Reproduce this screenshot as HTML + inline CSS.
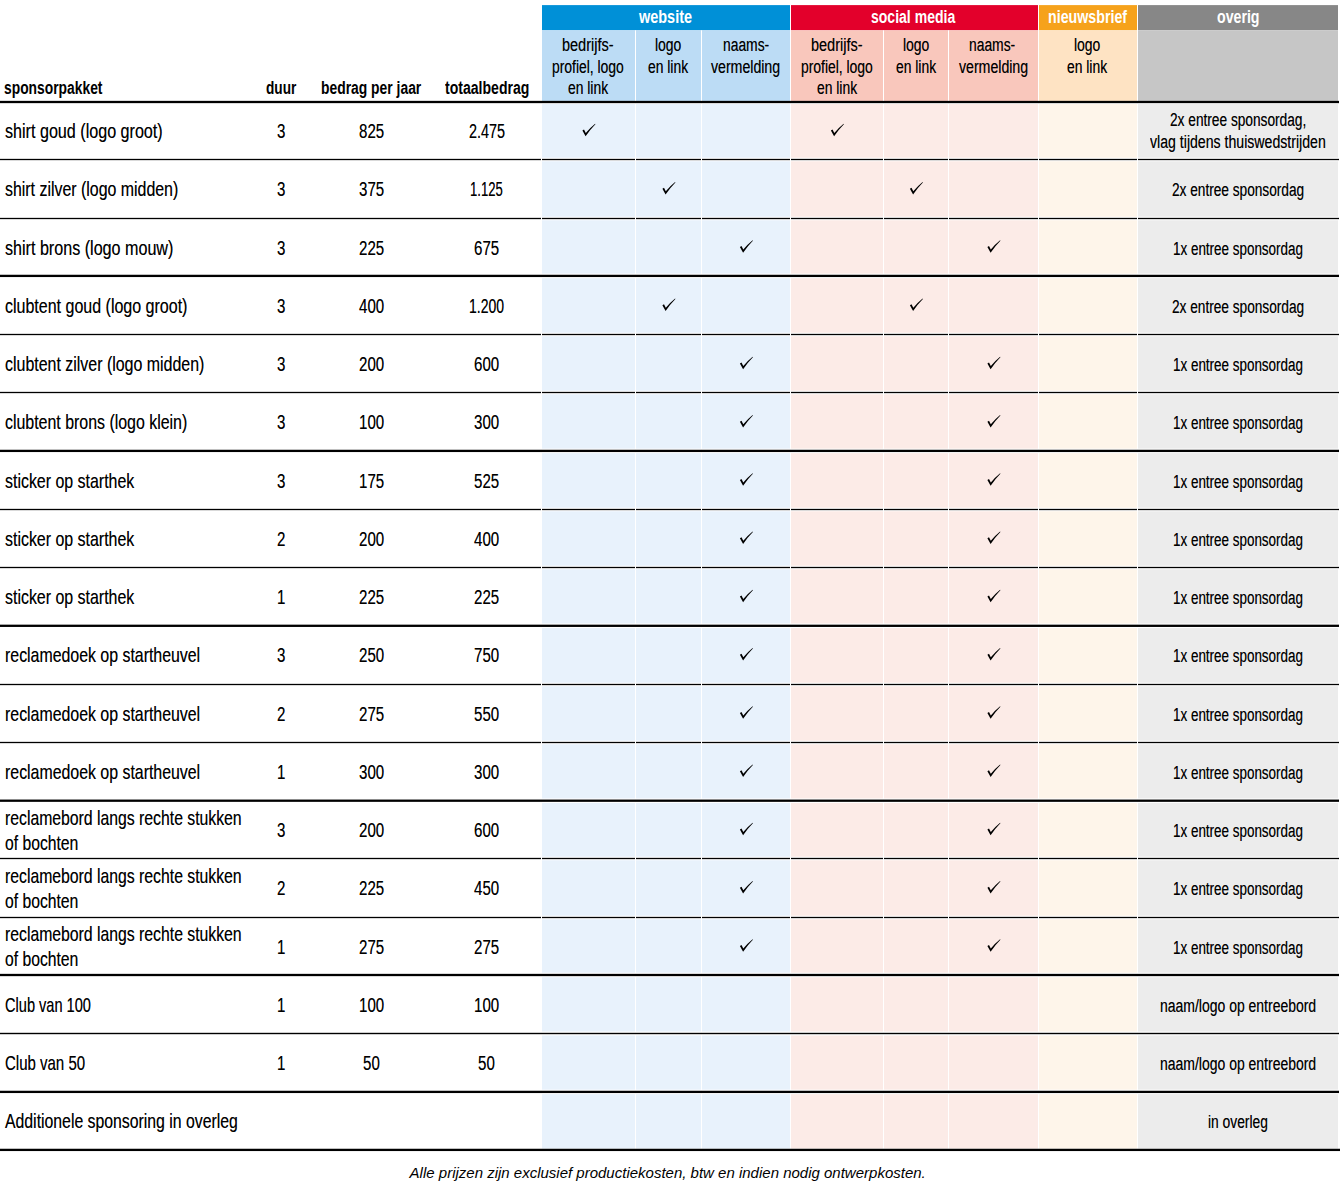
<!DOCTYPE html>
<html lang="nl"><head><meta charset="utf-8"><title>Sponsorpakketten</title>
<style>
html,body{margin:0;padding:0;background:#fff}
body{font-family:"Liberation Sans", sans-serif;color:#000}
.t{position:absolute;white-space:nowrap;line-height:1}
.t span{display:inline-block;transform-origin:0 50%}
body{width:1340px;height:1186px;position:relative;overflow:hidden}
</style></head><body>
<svg width="1340" height="1186" viewBox="0 0 1340 1186" style="position:absolute;left:0;top:0">
<rect x="542" y="5.1" width="248" height="25.2" fill="#0090d7"/>
<rect x="791" y="5.1" width="247" height="25.2" fill="#e3002b"/>
<rect x="1039" y="5.1" width="98" height="25.2" fill="#f6a21b"/>
<rect x="1138" y="5.1" width="200" height="25.2" fill="#878787"/>
<rect x="542" y="30.3" width="93" height="71" fill="#bcdcf5"/>
<rect x="636" y="30.3" width="65" height="71" fill="#bcdcf5"/>
<rect x="702" y="30.3" width="88" height="71" fill="#bcdcf5"/>
<rect x="791" y="30.3" width="92" height="71" fill="#f9c7bc"/>
<rect x="884" y="30.3" width="64" height="71" fill="#f9c7bc"/>
<rect x="949" y="30.3" width="89" height="71" fill="#f9c7bc"/>
<rect x="1039" y="30.3" width="98" height="71" fill="#fee3c3"/>
<rect x="1138" y="30.3" width="200" height="71" fill="#c6c6c6"/>
<rect x="542" y="104" width="93" height="1044.6" fill="#e8f2fc"/>
<rect x="636" y="104" width="65" height="1044.6" fill="#e8f2fc"/>
<rect x="702" y="104" width="88" height="1044.6" fill="#e8f2fc"/>
<rect x="791" y="104" width="92" height="1044.6" fill="#fcebe7"/>
<rect x="884" y="104" width="64" height="1044.6" fill="#fcebe7"/>
<rect x="949" y="104" width="89" height="1044.6" fill="#fcebe7"/>
<rect x="1039" y="104" width="98" height="1044.6" fill="#fef5ea"/>
<rect x="1138" y="104" width="200" height="1044.6" fill="#ececec"/>
<rect x="541" y="157.75" width="798" height="3.5" fill="#fff"/>
<rect x="541" y="216.75" width="798" height="3.5" fill="#fff"/>
<rect x="541" y="273.65" width="798" height="4.5" fill="#fff"/>
<rect x="541" y="332.75" width="798" height="3.5" fill="#fff"/>
<rect x="541" y="390.75" width="798" height="3.5" fill="#fff"/>
<rect x="541" y="448.65" width="798" height="4.5" fill="#fff"/>
<rect x="541" y="507.75" width="798" height="3.5" fill="#fff"/>
<rect x="541" y="565.75" width="798" height="3.5" fill="#fff"/>
<rect x="541" y="623.55" width="798" height="4.5" fill="#fff"/>
<rect x="541" y="682.75" width="798" height="3.5" fill="#fff"/>
<rect x="541" y="740.75" width="798" height="3.5" fill="#fff"/>
<rect x="541" y="798.45" width="798" height="4.5" fill="#fff"/>
<rect x="541" y="856.75" width="798" height="3.5" fill="#fff"/>
<rect x="541" y="915.75" width="798" height="3.5" fill="#fff"/>
<rect x="541" y="972.75" width="798" height="4.5" fill="#fff"/>
<rect x="541" y="1031.55" width="798" height="3.9" fill="#fff"/>
<rect x="541" y="1089.65" width="798" height="4.5" fill="#fff"/>
<rect x="0" y="158.85" width="1339" height="1.3" fill="#000"/>
<rect x="0" y="217.85" width="1339" height="1.3" fill="#000"/>
<rect x="0" y="333.85" width="1339" height="1.3" fill="#000"/>
<rect x="0" y="391.85" width="1339" height="1.3" fill="#000"/>
<rect x="0" y="508.85" width="1339" height="1.3" fill="#000"/>
<rect x="0" y="566.85" width="1339" height="1.3" fill="#000"/>
<rect x="0" y="683.85" width="1339" height="1.3" fill="#000"/>
<rect x="0" y="741.85" width="1339" height="1.3" fill="#000"/>
<rect x="0" y="857.85" width="1339" height="1.3" fill="#000"/>
<rect x="0" y="916.85" width="1339" height="1.3" fill="#000"/>
<rect x="541" y="5" width="1" height="1146" fill="#fff"/>
<rect x="790" y="5" width="1" height="1146" fill="#fff"/>
<rect x="1038" y="5" width="1" height="1146" fill="#fff"/>
<rect x="1137" y="5" width="1" height="1146" fill="#fff"/>
<rect x="635" y="30.3" width="1" height="1120.7" fill="#fff"/>
<rect x="701" y="30.3" width="1" height="1120.7" fill="#fff"/>
<rect x="883" y="30.3" width="1" height="1120.7" fill="#fff"/>
<rect x="948" y="30.3" width="1" height="1120.7" fill="#fff"/>
<rect x="0" y="100.85" width="1339" height="2.3" fill="#000"/>
<rect x="0" y="274.75" width="1339" height="2.3" fill="#000"/>
<rect x="0" y="449.75" width="1339" height="2.3" fill="#000"/>
<rect x="0" y="624.65" width="1339" height="2.3" fill="#000"/>
<rect x="0" y="799.55" width="1339" height="2.3" fill="#000"/>
<rect x="0" y="973.85" width="1339" height="2.3" fill="#000"/>
<rect x="0" y="1032.80" width="1339" height="1.4" fill="#000"/>
<rect x="0" y="1090.75" width="1339" height="2.3" fill="#000"/>
<rect x="0" y="1148.75" width="1340" height="2.3" fill="#000"/>
<path transform="translate(588.50,138.05)" d="M-6.1,-7.5 L-4.5,-8.5 L-2.7,-5.0 Q1.7,-10.2 6.6,-14.2 L6.9,-13.9 Q1.9,-8.9 -2.9,-1.8 Z" fill="#000"/>
<path transform="translate(837.00,138.05)" d="M-6.1,-7.5 L-4.5,-8.5 L-2.7,-5.0 Q1.7,-10.2 6.6,-14.2 L6.9,-13.9 Q1.9,-8.9 -2.9,-1.8 Z" fill="#000"/>
<path transform="translate(668.50,196.30)" d="M-6.1,-7.5 L-4.5,-8.5 L-2.7,-5.0 Q1.7,-10.2 6.6,-14.2 L6.9,-13.9 Q1.9,-8.9 -2.9,-1.8 Z" fill="#000"/>
<path transform="translate(916.00,196.30)" d="M-6.1,-7.5 L-4.5,-8.5 L-2.7,-5.0 Q1.7,-10.2 6.6,-14.2 L6.9,-13.9 Q1.9,-8.9 -2.9,-1.8 Z" fill="#000"/>
<path transform="translate(746.00,254.55)" d="M-6.1,-7.5 L-4.5,-8.5 L-2.7,-5.0 Q1.7,-10.2 6.6,-14.2 L6.9,-13.9 Q1.9,-8.9 -2.9,-1.8 Z" fill="#000"/>
<path transform="translate(993.50,254.55)" d="M-6.1,-7.5 L-4.5,-8.5 L-2.7,-5.0 Q1.7,-10.2 6.6,-14.2 L6.9,-13.9 Q1.9,-8.9 -2.9,-1.8 Z" fill="#000"/>
<path transform="translate(668.50,312.80)" d="M-6.1,-7.5 L-4.5,-8.5 L-2.7,-5.0 Q1.7,-10.2 6.6,-14.2 L6.9,-13.9 Q1.9,-8.9 -2.9,-1.8 Z" fill="#000"/>
<path transform="translate(916.00,312.80)" d="M-6.1,-7.5 L-4.5,-8.5 L-2.7,-5.0 Q1.7,-10.2 6.6,-14.2 L6.9,-13.9 Q1.9,-8.9 -2.9,-1.8 Z" fill="#000"/>
<path transform="translate(746.00,371.05)" d="M-6.1,-7.5 L-4.5,-8.5 L-2.7,-5.0 Q1.7,-10.2 6.6,-14.2 L6.9,-13.9 Q1.9,-8.9 -2.9,-1.8 Z" fill="#000"/>
<path transform="translate(993.50,371.05)" d="M-6.1,-7.5 L-4.5,-8.5 L-2.7,-5.0 Q1.7,-10.2 6.6,-14.2 L6.9,-13.9 Q1.9,-8.9 -2.9,-1.8 Z" fill="#000"/>
<path transform="translate(746.00,429.30)" d="M-6.1,-7.5 L-4.5,-8.5 L-2.7,-5.0 Q1.7,-10.2 6.6,-14.2 L6.9,-13.9 Q1.9,-8.9 -2.9,-1.8 Z" fill="#000"/>
<path transform="translate(993.50,429.30)" d="M-6.1,-7.5 L-4.5,-8.5 L-2.7,-5.0 Q1.7,-10.2 6.6,-14.2 L6.9,-13.9 Q1.9,-8.9 -2.9,-1.8 Z" fill="#000"/>
<path transform="translate(746.00,487.55)" d="M-6.1,-7.5 L-4.5,-8.5 L-2.7,-5.0 Q1.7,-10.2 6.6,-14.2 L6.9,-13.9 Q1.9,-8.9 -2.9,-1.8 Z" fill="#000"/>
<path transform="translate(993.50,487.55)" d="M-6.1,-7.5 L-4.5,-8.5 L-2.7,-5.0 Q1.7,-10.2 6.6,-14.2 L6.9,-13.9 Q1.9,-8.9 -2.9,-1.8 Z" fill="#000"/>
<path transform="translate(746.00,545.80)" d="M-6.1,-7.5 L-4.5,-8.5 L-2.7,-5.0 Q1.7,-10.2 6.6,-14.2 L6.9,-13.9 Q1.9,-8.9 -2.9,-1.8 Z" fill="#000"/>
<path transform="translate(993.50,545.80)" d="M-6.1,-7.5 L-4.5,-8.5 L-2.7,-5.0 Q1.7,-10.2 6.6,-14.2 L6.9,-13.9 Q1.9,-8.9 -2.9,-1.8 Z" fill="#000"/>
<path transform="translate(746.00,604.05)" d="M-6.1,-7.5 L-4.5,-8.5 L-2.7,-5.0 Q1.7,-10.2 6.6,-14.2 L6.9,-13.9 Q1.9,-8.9 -2.9,-1.8 Z" fill="#000"/>
<path transform="translate(993.50,604.05)" d="M-6.1,-7.5 L-4.5,-8.5 L-2.7,-5.0 Q1.7,-10.2 6.6,-14.2 L6.9,-13.9 Q1.9,-8.9 -2.9,-1.8 Z" fill="#000"/>
<path transform="translate(746.00,662.30)" d="M-6.1,-7.5 L-4.5,-8.5 L-2.7,-5.0 Q1.7,-10.2 6.6,-14.2 L6.9,-13.9 Q1.9,-8.9 -2.9,-1.8 Z" fill="#000"/>
<path transform="translate(993.50,662.30)" d="M-6.1,-7.5 L-4.5,-8.5 L-2.7,-5.0 Q1.7,-10.2 6.6,-14.2 L6.9,-13.9 Q1.9,-8.9 -2.9,-1.8 Z" fill="#000"/>
<path transform="translate(746.00,720.55)" d="M-6.1,-7.5 L-4.5,-8.5 L-2.7,-5.0 Q1.7,-10.2 6.6,-14.2 L6.9,-13.9 Q1.9,-8.9 -2.9,-1.8 Z" fill="#000"/>
<path transform="translate(993.50,720.55)" d="M-6.1,-7.5 L-4.5,-8.5 L-2.7,-5.0 Q1.7,-10.2 6.6,-14.2 L6.9,-13.9 Q1.9,-8.9 -2.9,-1.8 Z" fill="#000"/>
<path transform="translate(746.00,778.80)" d="M-6.1,-7.5 L-4.5,-8.5 L-2.7,-5.0 Q1.7,-10.2 6.6,-14.2 L6.9,-13.9 Q1.9,-8.9 -2.9,-1.8 Z" fill="#000"/>
<path transform="translate(993.50,778.80)" d="M-6.1,-7.5 L-4.5,-8.5 L-2.7,-5.0 Q1.7,-10.2 6.6,-14.2 L6.9,-13.9 Q1.9,-8.9 -2.9,-1.8 Z" fill="#000"/>
<path transform="translate(746.00,837.05)" d="M-6.1,-7.5 L-4.5,-8.5 L-2.7,-5.0 Q1.7,-10.2 6.6,-14.2 L6.9,-13.9 Q1.9,-8.9 -2.9,-1.8 Z" fill="#000"/>
<path transform="translate(993.50,837.05)" d="M-6.1,-7.5 L-4.5,-8.5 L-2.7,-5.0 Q1.7,-10.2 6.6,-14.2 L6.9,-13.9 Q1.9,-8.9 -2.9,-1.8 Z" fill="#000"/>
<path transform="translate(746.00,895.30)" d="M-6.1,-7.5 L-4.5,-8.5 L-2.7,-5.0 Q1.7,-10.2 6.6,-14.2 L6.9,-13.9 Q1.9,-8.9 -2.9,-1.8 Z" fill="#000"/>
<path transform="translate(993.50,895.30)" d="M-6.1,-7.5 L-4.5,-8.5 L-2.7,-5.0 Q1.7,-10.2 6.6,-14.2 L6.9,-13.9 Q1.9,-8.9 -2.9,-1.8 Z" fill="#000"/>
<path transform="translate(746.00,953.55)" d="M-6.1,-7.5 L-4.5,-8.5 L-2.7,-5.0 Q1.7,-10.2 6.6,-14.2 L6.9,-13.9 Q1.9,-8.9 -2.9,-1.8 Z" fill="#000"/>
<path transform="translate(993.50,953.55)" d="M-6.1,-7.5 L-4.5,-8.5 L-2.7,-5.0 Q1.7,-10.2 6.6,-14.2 L6.9,-13.9 Q1.9,-8.9 -2.9,-1.8 Z" fill="#000"/>
</svg>
<div class="t" style="left:4.42px;top:79px;font-size:18px;font-weight:bold;"><span style="transform:scaleX(0.7688)">sponsorpakket</span></div>
<div class="t" style="left:265.88px;top:79px;font-size:18px;font-weight:bold;"><span style="transform:scaleX(0.7589)">duur</span></div>
<div class="t" style="left:320.90px;top:79px;font-size:18px;font-weight:bold;"><span style="transform:scaleX(0.7708)">bedrag per jaar</span></div>
<div class="t" style="left:445.28px;top:79px;font-size:18px;font-weight:bold;"><span style="transform:scaleX(0.7817)">totaalbedrag</span></div>
<div class="t" style="left:639.39px;top:8px;font-size:18px;font-weight:bold;color:#fff;"><span style="transform:scaleX(0.8025)">website</span></div>
<div class="t" style="left:871.31px;top:8px;font-size:18px;font-weight:bold;color:#fff;"><span style="transform:scaleX(0.7793)">social media</span></div>
<div class="t" style="left:1047.77px;top:8px;font-size:18px;font-weight:bold;color:#fff;"><span style="transform:scaleX(0.7902)">nieuwsbrief</span></div>
<div class="t" style="left:1217.12px;top:8px;font-size:18px;font-weight:bold;color:#fff;"><span style="transform:scaleX(0.7873)">overig</span></div>
<div class="t" style="left:562.08px;top:36px;font-size:18px;text-shadow:0.06px 0 0 rgba(0,0,0,.45);"><span style="transform:scaleX(0.8049)">bedrijfs-</span></div>
<div class="t" style="left:552.03px;top:58px;font-size:18px;text-shadow:0.06px 0 0 rgba(0,0,0,.45);"><span style="transform:translateY(-0.20px) scaleX(0.7715)">profiel, logo</span></div>
<div class="t" style="left:567.77px;top:79px;font-size:18px;text-shadow:0.06px 0 0 rgba(0,0,0,.45);"><span style="transform:scaleX(0.7704)">en link</span></div>
<div class="t" style="left:810.98px;top:36px;font-size:18px;text-shadow:0.06px 0 0 rgba(0,0,0,.45);"><span style="transform:scaleX(0.8049)">bedrijfs-</span></div>
<div class="t" style="left:800.93px;top:58px;font-size:18px;text-shadow:0.06px 0 0 rgba(0,0,0,.45);"><span style="transform:translateY(-0.20px) scaleX(0.7715)">profiel, logo</span></div>
<div class="t" style="left:816.67px;top:79px;font-size:18px;text-shadow:0.06px 0 0 rgba(0,0,0,.45);"><span style="transform:scaleX(0.7704)">en link</span></div>
<div class="t" style="left:655.10px;top:36px;font-size:18px;text-shadow:0.06px 0 0 rgba(0,0,0,.45);"><span style="transform:scaleX(0.7718)">logo</span></div>
<div class="t" style="left:648.17px;top:58px;font-size:18px;text-shadow:0.06px 0 0 rgba(0,0,0,.45);"><span style="transform:translateY(-0.20px) scaleX(0.7704)">en link</span></div>
<div class="t" style="left:902.60px;top:36px;font-size:18px;text-shadow:0.06px 0 0 rgba(0,0,0,.45);"><span style="transform:scaleX(0.7718)">logo</span></div>
<div class="t" style="left:895.67px;top:58px;font-size:18px;text-shadow:0.06px 0 0 rgba(0,0,0,.45);"><span style="transform:translateY(-0.20px) scaleX(0.7704)">en link</span></div>
<div class="t" style="left:1074.20px;top:36px;font-size:18px;text-shadow:0.06px 0 0 rgba(0,0,0,.45);"><span style="transform:scaleX(0.7718)">logo</span></div>
<div class="t" style="left:1067.26px;top:58px;font-size:18px;text-shadow:0.06px 0 0 rgba(0,0,0,.45);"><span style="transform:translateY(-0.20px) scaleX(0.7704)">en link</span></div>
<div class="t" style="left:722.90px;top:36px;font-size:18px;text-shadow:0.06px 0 0 rgba(0,0,0,.45);"><span style="transform:scaleX(0.7691)">naams-</span></div>
<div class="t" style="left:710.76px;top:58px;font-size:18px;text-shadow:0.06px 0 0 rgba(0,0,0,.45);"><span style="transform:translateY(-0.20px) scaleX(0.7847)">vermelding</span></div>
<div class="t" style="left:969.40px;top:36px;font-size:18px;text-shadow:0.06px 0 0 rgba(0,0,0,.45);"><span style="transform:scaleX(0.7691)">naams-</span></div>
<div class="t" style="left:958.66px;top:58px;font-size:18px;text-shadow:0.06px 0 0 rgba(0,0,0,.45);"><span style="transform:translateY(-0.20px) scaleX(0.7847)">vermelding</span></div>
<div class="t" style="left:4.72px;top:121px;font-size:20.7px;text-shadow:0.06px 0 0 rgba(0,0,0,.45);"><span style="transform:translateY(0.05px) scaleX(0.7791)">shirt goud (logo groot)</span></div>
<div class="t" style="left:276.69px;top:121px;font-size:20px;text-shadow:0.06px 0 0 rgba(0,0,0,.45);"><span style="transform:translateY(0.05px) scaleX(0.7530)">3</span></div>
<div class="t" style="left:359.05px;top:121px;font-size:20px;text-shadow:0.06px 0 0 rgba(0,0,0,.45);"><span style="transform:translateY(0.05px) scaleX(0.7530)">825</span></div>
<div class="t" style="left:468.87px;top:121px;font-size:20px;text-shadow:0.06px 0 0 rgba(0,0,0,.45);"><span style="transform:translateY(0.05px) scaleX(0.7200)">2.475</span></div>
<div class="t" style="left:1170.36px;top:111px;font-size:18px;text-shadow:0.06px 0 0 rgba(0,0,0,.45);"><span style="transform:scaleX(0.7608)">2x entree sponsordag,</span></div>
<div class="t" style="left:1150.28px;top:133px;font-size:18px;text-shadow:0.06px 0 0 rgba(0,0,0,.45);"><span style="transform:scaleX(0.7843)">vlag tijdens thuiswedstrijden</span></div>
<div class="t" style="left:4.75px;top:179px;font-size:20.7px;text-shadow:0.06px 0 0 rgba(0,0,0,.45);"><span style="transform:translateY(0.30px) scaleX(0.7687)">shirt zilver (logo midden)</span></div>
<div class="t" style="left:276.69px;top:179px;font-size:20px;text-shadow:0.06px 0 0 rgba(0,0,0,.45);"><span style="transform:translateY(0.30px) scaleX(0.7530)">3</span></div>
<div class="t" style="left:359.02px;top:179px;font-size:20px;text-shadow:0.06px 0 0 rgba(0,0,0,.45);"><span style="transform:translateY(0.30px) scaleX(0.7530)">375</span></div>
<div class="t" style="left:470.33px;top:179px;font-size:20px;text-shadow:0.06px 0 0 rgba(0,0,0,.45);"><span style="transform:translateY(0.30px) scaleX(0.6550)">1.125</span></div>
<div class="t" style="left:1171.99px;top:181px;font-size:18px;text-shadow:0.06px 0 0 rgba(0,0,0,.45);"><span style="transform:translateY(0.30px) scaleX(0.7589)">2x entree sponsordag</span></div>
<div class="t" style="left:4.72px;top:238px;font-size:20.7px;text-shadow:0.06px 0 0 rgba(0,0,0,.45);"><span style="transform:translateY(-0.45px) scaleX(0.7788)">shirt brons (logo mouw)</span></div>
<div class="t" style="left:276.69px;top:238px;font-size:20px;text-shadow:0.06px 0 0 rgba(0,0,0,.45);"><span style="transform:translateY(-0.45px) scaleX(0.7530)">3</span></div>
<div class="t" style="left:359.01px;top:238px;font-size:20px;text-shadow:0.06px 0 0 rgba(0,0,0,.45);"><span style="transform:translateY(-0.45px) scaleX(0.7530)">225</span></div>
<div class="t" style="left:474.29px;top:238px;font-size:20px;text-shadow:0.06px 0 0 rgba(0,0,0,.45);"><span style="transform:translateY(-0.45px) scaleX(0.7530)">675</span></div>
<div class="t" style="left:1172.90px;top:240px;font-size:18px;text-shadow:0.06px 0 0 rgba(0,0,0,.45);"><span style="transform:translateY(-0.45px) scaleX(0.7461)">1x entree sponsordag</span></div>
<div class="t" style="left:4.68px;top:296px;font-size:20.7px;text-shadow:0.06px 0 0 rgba(0,0,0,.45);"><span style="transform:translateY(-0.20px) scaleX(0.7738)">clubtent goud (logo groot)</span></div>
<div class="t" style="left:276.69px;top:296px;font-size:20px;text-shadow:0.06px 0 0 rgba(0,0,0,.45);"><span style="transform:translateY(-0.20px) scaleX(0.7530)">3</span></div>
<div class="t" style="left:359.19px;top:296px;font-size:20px;text-shadow:0.06px 0 0 rgba(0,0,0,.45);"><span style="transform:translateY(-0.20px) scaleX(0.7530)">400</span></div>
<div class="t" style="left:469.18px;top:296px;font-size:20px;text-shadow:0.06px 0 0 rgba(0,0,0,.45);"><span style="transform:translateY(-0.20px) scaleX(0.7000)">1.200</span></div>
<div class="t" style="left:1171.99px;top:298px;font-size:18px;text-shadow:0.06px 0 0 rgba(0,0,0,.45);"><span style="transform:translateY(-0.20px) scaleX(0.7589)">2x entree sponsordag</span></div>
<div class="t" style="left:4.68px;top:354px;font-size:20.7px;text-shadow:0.06px 0 0 rgba(0,0,0,.45);"><span style="transform:translateY(0.05px) scaleX(0.7706)">clubtent zilver (logo midden)</span></div>
<div class="t" style="left:276.69px;top:354px;font-size:20px;text-shadow:0.06px 0 0 rgba(0,0,0,.45);"><span style="transform:translateY(0.05px) scaleX(0.7530)">3</span></div>
<div class="t" style="left:358.96px;top:354px;font-size:20px;text-shadow:0.06px 0 0 rgba(0,0,0,.45);"><span style="transform:translateY(0.05px) scaleX(0.7530)">200</span></div>
<div class="t" style="left:474.24px;top:354px;font-size:20px;text-shadow:0.06px 0 0 rgba(0,0,0,.45);"><span style="transform:translateY(0.05px) scaleX(0.7530)">600</span></div>
<div class="t" style="left:1172.90px;top:356px;font-size:18px;text-shadow:0.06px 0 0 rgba(0,0,0,.45);"><span style="transform:translateY(0.05px) scaleX(0.7461)">1x entree sponsordag</span></div>
<div class="t" style="left:4.68px;top:412px;font-size:20.7px;text-shadow:0.06px 0 0 rgba(0,0,0,.45);"><span style="transform:translateY(0.30px) scaleX(0.7693)">clubtent brons (logo klein)</span></div>
<div class="t" style="left:276.69px;top:412px;font-size:20px;text-shadow:0.06px 0 0 rgba(0,0,0,.45);"><span style="transform:translateY(0.30px) scaleX(0.7530)">3</span></div>
<div class="t" style="left:358.80px;top:412px;font-size:20px;text-shadow:0.06px 0 0 rgba(0,0,0,.45);"><span style="transform:translateY(0.30px) scaleX(0.7530)">100</span></div>
<div class="t" style="left:474.27px;top:412px;font-size:20px;text-shadow:0.06px 0 0 rgba(0,0,0,.45);"><span style="transform:translateY(0.30px) scaleX(0.7530)">300</span></div>
<div class="t" style="left:1172.90px;top:414px;font-size:18px;text-shadow:0.06px 0 0 rgba(0,0,0,.45);"><span style="transform:translateY(0.30px) scaleX(0.7461)">1x entree sponsordag</span></div>
<div class="t" style="left:4.75px;top:471px;font-size:20.7px;text-shadow:0.06px 0 0 rgba(0,0,0,.45);"><span style="transform:translateY(-0.45px) scaleX(0.7699)">sticker op starthek</span></div>
<div class="t" style="left:276.69px;top:471px;font-size:20px;text-shadow:0.06px 0 0 rgba(0,0,0,.45);"><span style="transform:translateY(-0.45px) scaleX(0.7530)">3</span></div>
<div class="t" style="left:358.85px;top:471px;font-size:20px;text-shadow:0.06px 0 0 rgba(0,0,0,.45);"><span style="transform:translateY(-0.45px) scaleX(0.7530)">175</span></div>
<div class="t" style="left:474.29px;top:471px;font-size:20px;text-shadow:0.06px 0 0 rgba(0,0,0,.45);"><span style="transform:translateY(-0.45px) scaleX(0.7530)">525</span></div>
<div class="t" style="left:1172.90px;top:473px;font-size:18px;text-shadow:0.06px 0 0 rgba(0,0,0,.45);"><span style="transform:translateY(-0.45px) scaleX(0.7461)">1x entree sponsordag</span></div>
<div class="t" style="left:4.75px;top:529px;font-size:20.7px;text-shadow:0.06px 0 0 rgba(0,0,0,.45);"><span style="transform:translateY(-0.20px) scaleX(0.7699)">sticker op starthek</span></div>
<div class="t" style="left:276.68px;top:529px;font-size:20px;text-shadow:0.06px 0 0 rgba(0,0,0,.45);"><span style="transform:translateY(-0.20px) scaleX(0.7530)">2</span></div>
<div class="t" style="left:358.96px;top:529px;font-size:20px;text-shadow:0.06px 0 0 rgba(0,0,0,.45);"><span style="transform:translateY(-0.20px) scaleX(0.7530)">200</span></div>
<div class="t" style="left:474.49px;top:529px;font-size:20px;text-shadow:0.06px 0 0 rgba(0,0,0,.45);"><span style="transform:translateY(-0.20px) scaleX(0.7530)">400</span></div>
<div class="t" style="left:1172.90px;top:531px;font-size:18px;text-shadow:0.06px 0 0 rgba(0,0,0,.45);"><span style="transform:translateY(-0.20px) scaleX(0.7461)">1x entree sponsordag</span></div>
<div class="t" style="left:4.75px;top:587px;font-size:20.7px;text-shadow:0.06px 0 0 rgba(0,0,0,.45);"><span style="transform:translateY(0.05px) scaleX(0.7699)">sticker op starthek</span></div>
<div class="t" style="left:276.52px;top:587px;font-size:20px;text-shadow:0.06px 0 0 rgba(0,0,0,.45);"><span style="transform:translateY(0.05px) scaleX(0.7530)">1</span></div>
<div class="t" style="left:359.01px;top:587px;font-size:20px;text-shadow:0.06px 0 0 rgba(0,0,0,.45);"><span style="transform:translateY(0.05px) scaleX(0.7530)">225</span></div>
<div class="t" style="left:474.31px;top:587px;font-size:20px;text-shadow:0.06px 0 0 rgba(0,0,0,.45);"><span style="transform:translateY(0.05px) scaleX(0.7530)">225</span></div>
<div class="t" style="left:1172.90px;top:589px;font-size:18px;text-shadow:0.06px 0 0 rgba(0,0,0,.45);"><span style="transform:translateY(0.05px) scaleX(0.7461)">1x entree sponsordag</span></div>
<div class="t" style="left:4.85px;top:645px;font-size:20.7px;text-shadow:0.06px 0 0 rgba(0,0,0,.45);"><span style="transform:translateY(0.30px) scaleX(0.7679)">reclamedoek op startheuvel</span></div>
<div class="t" style="left:276.69px;top:645px;font-size:20px;text-shadow:0.06px 0 0 rgba(0,0,0,.45);"><span style="transform:translateY(0.30px) scaleX(0.7530)">3</span></div>
<div class="t" style="left:358.96px;top:645px;font-size:20px;text-shadow:0.06px 0 0 rgba(0,0,0,.45);"><span style="transform:translateY(0.30px) scaleX(0.7530)">250</span></div>
<div class="t" style="left:474.24px;top:645px;font-size:20px;text-shadow:0.06px 0 0 rgba(0,0,0,.45);"><span style="transform:translateY(0.30px) scaleX(0.7530)">750</span></div>
<div class="t" style="left:1172.90px;top:647px;font-size:18px;text-shadow:0.06px 0 0 rgba(0,0,0,.45);"><span style="transform:translateY(0.30px) scaleX(0.7461)">1x entree sponsordag</span></div>
<div class="t" style="left:4.85px;top:704px;font-size:20.7px;text-shadow:0.06px 0 0 rgba(0,0,0,.45);"><span style="transform:translateY(-0.45px) scaleX(0.7679)">reclamedoek op startheuvel</span></div>
<div class="t" style="left:276.68px;top:704px;font-size:20px;text-shadow:0.06px 0 0 rgba(0,0,0,.45);"><span style="transform:translateY(-0.45px) scaleX(0.7530)">2</span></div>
<div class="t" style="left:359.01px;top:704px;font-size:20px;text-shadow:0.06px 0 0 rgba(0,0,0,.45);"><span style="transform:translateY(-0.45px) scaleX(0.7530)">275</span></div>
<div class="t" style="left:474.24px;top:704px;font-size:20px;text-shadow:0.06px 0 0 rgba(0,0,0,.45);"><span style="transform:translateY(-0.45px) scaleX(0.7530)">550</span></div>
<div class="t" style="left:1172.90px;top:706px;font-size:18px;text-shadow:0.06px 0 0 rgba(0,0,0,.45);"><span style="transform:translateY(-0.45px) scaleX(0.7461)">1x entree sponsordag</span></div>
<div class="t" style="left:4.85px;top:762px;font-size:20.7px;text-shadow:0.06px 0 0 rgba(0,0,0,.45);"><span style="transform:translateY(-0.20px) scaleX(0.7679)">reclamedoek op startheuvel</span></div>
<div class="t" style="left:276.52px;top:762px;font-size:20px;text-shadow:0.06px 0 0 rgba(0,0,0,.45);"><span style="transform:translateY(-0.20px) scaleX(0.7530)">1</span></div>
<div class="t" style="left:358.97px;top:762px;font-size:20px;text-shadow:0.06px 0 0 rgba(0,0,0,.45);"><span style="transform:translateY(-0.20px) scaleX(0.7530)">300</span></div>
<div class="t" style="left:474.27px;top:762px;font-size:20px;text-shadow:0.06px 0 0 rgba(0,0,0,.45);"><span style="transform:translateY(-0.20px) scaleX(0.7530)">300</span></div>
<div class="t" style="left:1172.90px;top:764px;font-size:18px;text-shadow:0.06px 0 0 rgba(0,0,0,.45);"><span style="transform:translateY(-0.20px) scaleX(0.7461)">1x entree sponsordag</span></div>
<div class="t" style="left:4.85px;top:808px;font-size:20.7px;text-shadow:0.06px 0 0 rgba(0,0,0,.45);"><span style="transform:translateY(-0.05px) scaleX(0.7622)">reclamebord langs rechte stukken</span></div>
<div class="t" style="left:4.79px;top:833px;font-size:20.7px;text-shadow:0.06px 0 0 rgba(0,0,0,.45);"><span style="transform:translateY(-0.05px) scaleX(0.7588)">of bochten</span></div>
<div class="t" style="left:276.69px;top:820px;font-size:20px;text-shadow:0.06px 0 0 rgba(0,0,0,.45);"><span style="transform:translateY(0.05px) scaleX(0.7530)">3</span></div>
<div class="t" style="left:358.96px;top:820px;font-size:20px;text-shadow:0.06px 0 0 rgba(0,0,0,.45);"><span style="transform:translateY(0.05px) scaleX(0.7530)">200</span></div>
<div class="t" style="left:474.24px;top:820px;font-size:20px;text-shadow:0.06px 0 0 rgba(0,0,0,.45);"><span style="transform:translateY(0.05px) scaleX(0.7530)">600</span></div>
<div class="t" style="left:1172.90px;top:822px;font-size:18px;text-shadow:0.06px 0 0 rgba(0,0,0,.45);"><span style="transform:translateY(0.05px) scaleX(0.7461)">1x entree sponsordag</span></div>
<div class="t" style="left:4.85px;top:866px;font-size:20.7px;text-shadow:0.06px 0 0 rgba(0,0,0,.45);"><span style="transform:translateY(0.20px) scaleX(0.7622)">reclamebord langs rechte stukken</span></div>
<div class="t" style="left:4.79px;top:891px;font-size:20.7px;text-shadow:0.06px 0 0 rgba(0,0,0,.45);"><span style="transform:translateY(0.20px) scaleX(0.7588)">of bochten</span></div>
<div class="t" style="left:276.68px;top:878px;font-size:20px;text-shadow:0.06px 0 0 rgba(0,0,0,.45);"><span style="transform:translateY(0.30px) scaleX(0.7530)">2</span></div>
<div class="t" style="left:359.01px;top:878px;font-size:20px;text-shadow:0.06px 0 0 rgba(0,0,0,.45);"><span style="transform:translateY(0.30px) scaleX(0.7530)">225</span></div>
<div class="t" style="left:474.49px;top:878px;font-size:20px;text-shadow:0.06px 0 0 rgba(0,0,0,.45);"><span style="transform:translateY(0.30px) scaleX(0.7530)">450</span></div>
<div class="t" style="left:1172.90px;top:880px;font-size:18px;text-shadow:0.06px 0 0 rgba(0,0,0,.45);"><span style="transform:translateY(0.30px) scaleX(0.7461)">1x entree sponsordag</span></div>
<div class="t" style="left:4.85px;top:924px;font-size:20.7px;text-shadow:0.06px 0 0 rgba(0,0,0,.45);"><span style="transform:translateY(0.45px) scaleX(0.7622)">reclamebord langs rechte stukken</span></div>
<div class="t" style="left:4.79px;top:949px;font-size:20.7px;text-shadow:0.06px 0 0 rgba(0,0,0,.45);"><span style="transform:translateY(0.45px) scaleX(0.7588)">of bochten</span></div>
<div class="t" style="left:276.52px;top:937px;font-size:20px;text-shadow:0.06px 0 0 rgba(0,0,0,.45);"><span style="transform:translateY(-0.45px) scaleX(0.7530)">1</span></div>
<div class="t" style="left:359.01px;top:937px;font-size:20px;text-shadow:0.06px 0 0 rgba(0,0,0,.45);"><span style="transform:translateY(-0.45px) scaleX(0.7530)">275</span></div>
<div class="t" style="left:474.31px;top:937px;font-size:20px;text-shadow:0.06px 0 0 rgba(0,0,0,.45);"><span style="transform:translateY(-0.45px) scaleX(0.7530)">275</span></div>
<div class="t" style="left:1172.90px;top:939px;font-size:18px;text-shadow:0.06px 0 0 rgba(0,0,0,.45);"><span style="transform:translateY(-0.45px) scaleX(0.7461)">1x entree sponsordag</span></div>
<div class="t" style="left:4.81px;top:995px;font-size:20.7px;text-shadow:0.06px 0 0 rgba(0,0,0,.45);"><span style="transform:translateY(-0.20px) scaleX(0.7048)">Club van 100</span></div>
<div class="t" style="left:276.52px;top:995px;font-size:20px;text-shadow:0.06px 0 0 rgba(0,0,0,.45);"><span style="transform:translateY(-0.20px) scaleX(0.7530)">1</span></div>
<div class="t" style="left:358.80px;top:995px;font-size:20px;text-shadow:0.06px 0 0 rgba(0,0,0,.45);"><span style="transform:translateY(-0.20px) scaleX(0.7530)">100</span></div>
<div class="t" style="left:474.10px;top:995px;font-size:20px;text-shadow:0.06px 0 0 rgba(0,0,0,.45);"><span style="transform:translateY(-0.20px) scaleX(0.7530)">100</span></div>
<div class="t" style="left:1159.88px;top:997px;font-size:18px;text-shadow:0.06px 0 0 rgba(0,0,0,.45);"><span style="transform:translateY(-0.20px) scaleX(0.7762)">naam/logo op entreebord</span></div>
<div class="t" style="left:4.76px;top:1053px;font-size:20.7px;text-shadow:0.06px 0 0 rgba(0,0,0,.45);"><span style="transform:translateY(0.05px) scaleX(0.7252)">Club van 50</span></div>
<div class="t" style="left:276.52px;top:1053px;font-size:20px;text-shadow:0.06px 0 0 rgba(0,0,0,.45);"><span style="transform:translateY(0.05px) scaleX(0.7530)">1</span></div>
<div class="t" style="left:363.09px;top:1053px;font-size:20px;text-shadow:0.06px 0 0 rgba(0,0,0,.45);"><span style="transform:translateY(0.05px) scaleX(0.7530)">50</span></div>
<div class="t" style="left:478.39px;top:1053px;font-size:20px;text-shadow:0.06px 0 0 rgba(0,0,0,.45);"><span style="transform:translateY(0.05px) scaleX(0.7530)">50</span></div>
<div class="t" style="left:1159.88px;top:1055px;font-size:18px;text-shadow:0.06px 0 0 rgba(0,0,0,.45);"><span style="transform:translateY(0.05px) scaleX(0.7762)">naam/logo op entreebord</span></div>
<div class="t" style="left:5.00px;top:1111px;font-size:20.7px;text-shadow:0.06px 0 0 rgba(0,0,0,.45);"><span style="transform:translateY(0.30px) scaleX(0.7639)">Additionele sponsoring in overleg</span></div>
<div class="t" style="left:1207.98px;top:1113px;font-size:18px;text-shadow:0.06px 0 0 rgba(0,0,0,.45);"><span style="transform:translateY(0.30px) scaleX(0.7670)">in overleg</span></div>
<div class="t" style="left:409.61px;top:1165px;font-size:15px;font-style:italic;"><span style="transform:translateY(0.30px)">Alle prijzen zijn exclusief productiekosten, btw en indien nodig ontwerpkosten.</span></div>
</body></html>
